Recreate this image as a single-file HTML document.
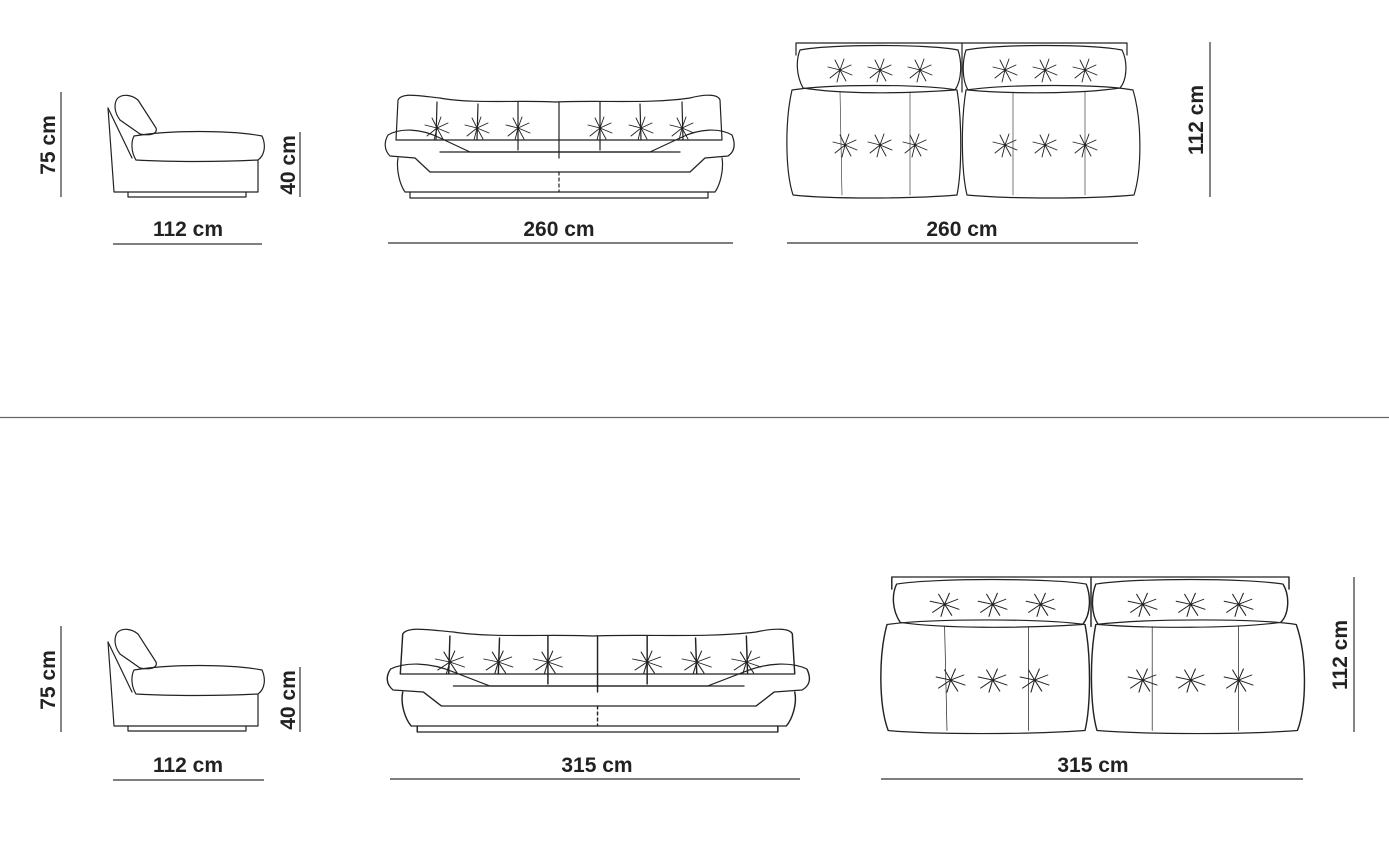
<!DOCTYPE html>
<html><head><meta charset="utf-8"><style>
html,body{margin:0;padding:0;background:#fff;}
svg{display:block;}
text{font-family:"Liberation Sans",sans-serif;font-weight:bold;font-size:21px;fill:#222;}
.s{fill:none;stroke:#222;stroke-width:1.2;stroke-linejoin:round;stroke-linecap:round;}
.d{stroke:#333;stroke-width:1.2;}
</style></head><body>
<svg width="1389" height="841" viewBox="0 0 1389 841">
<defs>
<g id="t" class="s" style="stroke-width:0.9">
<path d="M-12,-3 L0,0 L-10,8 M0,0 L-3,12 M0,0 L6,11 M0,0 L12,5 M0,0 L11,-5 M0,0 L4,-11 M0,0 L-5,-10"/>
</g>
<!-- side view -->
<g id="side">
<path class="s" d="M108,108 L114,192 L258,192 L258,160"/>
<path class="s" d="M117,99 C122,93 132,95 138,100 L156,128 C158,134 150,136 140,134 L120,120 C114,112 114,104 117,99 Z"/>
<path class="s" d="M108,108 L132,158"/>
<path class="s" d="M134,136 C170,130 230,130 262,136 C266,145 265,155 258,160 C220,162 170,162 136,160 C131,152 131,142 134,136 Z"/>
<path class="s" d="M128,192 L128,197 L246,197 L246,192"/>
</g>
<!-- front view 260 -->
<g id="front">
<path class="s" d="M398,100 C402,92 420,96 440,98 C470,104 520,100 555,102 C600,100 650,104 690,98 C705,94 718,94 720,100 L722,140 L396,140 Z"/>
<path class="s" d="M559,102 L559,158"/>
<path class="s" d="M388,135 C400,128 420,128 440,138 L470,152 L650,152 L680,138 C700,128 720,128 732,135 C736,145 734,152 728,156 L705,158 L690,172 L430,172 L415,158 L390,156 C384,150 384,142 388,135 Z"/>
<path class="s" d="M440,152 L680,152"/>
<path class="s" d="M398,158 C396,170 400,185 405,192 L715,192 C720,185 724,170 722,158"/>
<path class="s" d="M410,192 L410,198 L708,198 L708,192"/>
<path class="s" style="stroke-dasharray:3 3" d="M559,172 L559,192"/>
<path class="s" d="M437,102 L436,140 M478,104 L477,140 M518,102 L518,150 M600,102 L600,150 M640,104 L641,140 M682,102 L683,140"/>
<use href="#t" x="437" y="128"/><use href="#t" x="477" y="128"/><use href="#t" x="518" y="128"/>
<use href="#t" x="600" y="128"/><use href="#t" x="641" y="128"/><use href="#t" x="682" y="128"/>
</g>
<!-- top view 260 -->
<g id="top">
<path class="s" d="M796,55 L796,43 L1127,43 L1127,55"/>
<path class="s" d="M962,43 L962,92"/>
<path class="s" d="M800,50 C830,44 930,44 958,50 C962,62 962,80 955,90 C900,94 840,94 803,88 C796,75 796,60 800,50 Z"/>
<path class="s" d="M966,50 C1000,44 1090,44 1122,50 C1128,62 1127,80 1120,88 C1080,94 1010,94 968,90 C962,80 962,62 966,50 Z"/>
<path class="s" d="M792,90 C830,84 920,84 957,90 C962,120 962,170 957,195 C910,199 830,199 793,195 C785,170 785,120 792,90 Z"/>
<path class="s" d="M966,90 C1010,84 1100,84 1133,90 C1142,120 1142,170 1134,195 C1090,199 1010,199 967,195 C961,170 961,120 966,90 Z"/>
<path class="s" d="M840,92 L842,195 M910,92 L910,195 M1013,92 L1013,195 M1085,92 L1085,195" style="stroke-width:0.6"/>
<use href="#t" x="840" y="70"/><use href="#t" x="880" y="70"/><use href="#t" x="920" y="70"/>
<use href="#t" x="1005" y="70"/><use href="#t" x="1045" y="70"/><use href="#t" x="1085" y="70"/>
<use href="#t" x="845" y="145"/><use href="#t" x="880" y="145"/><use href="#t" x="915" y="145"/>
<use href="#t" x="1005" y="145"/><use href="#t" x="1045" y="145"/><use href="#t" x="1085" y="145"/>
</g>
</defs>

<!-- TOP ROW -->
<line class="d" x1="61" y1="92" x2="61" y2="197"/>
<text transform="translate(55,145) rotate(-90)" text-anchor="middle">75 cm</text>
<use href="#side"/>
<line class="d" x1="300" y1="132" x2="300" y2="197"/>
<text transform="translate(295,165) rotate(-90)" text-anchor="middle">40 cm</text>
<text x="188" y="236" text-anchor="middle">112 cm</text>
<line class="d" x1="113" y1="244" x2="262" y2="244"/>

<use href="#front"/>
<text x="559" y="236" text-anchor="middle">260 cm</text>
<line class="d" x1="388" y1="243" x2="733" y2="243"/>

<use href="#top"/>
<text x="962" y="236" text-anchor="middle">260 cm</text>
<line class="d" x1="787" y1="243" x2="1138" y2="243"/>
<line class="d" x1="1210" y1="42" x2="1210" y2="197"/>
<text transform="translate(1203,120) rotate(-90)" text-anchor="middle">112 cm</text>

<line x1="0" y1="417.5" x2="1389" y2="417.5" stroke="#666" stroke-width="1.2"/>

<!-- BOTTOM ROW -->
<line class="d" x1="61" y1="626" x2="61" y2="732"/>
<text transform="translate(55,680) rotate(-90)" text-anchor="middle">75 cm</text>
<use href="#side" transform="translate(0,534)"/>
<line class="d" x1="300" y1="667" x2="300" y2="732"/>
<text transform="translate(295,700) rotate(-90)" text-anchor="middle">40 cm</text>
<text x="188" y="772" text-anchor="middle">112 cm</text>
<line class="d" x1="113" y1="780" x2="264" y2="780"/>

<use href="#front" transform="translate(387,627) scale(1.21,1) translate(-385,-93)"/>
<text x="597" y="772" text-anchor="middle">315 cm</text>
<line class="d" x1="390" y1="779" x2="800" y2="779"/>

<use href="#top" transform="translate(881,576) scale(1.2,1.01) translate(-787,-42)"/>
<text x="1093" y="772" text-anchor="middle">315 cm</text>
<line class="d" x1="881" y1="779" x2="1303" y2="779"/>
<line class="d" x1="1354" y1="577" x2="1354" y2="732"/>
<text transform="translate(1347,655) rotate(-90)" text-anchor="middle">112 cm</text>
</svg>
</body></html>
